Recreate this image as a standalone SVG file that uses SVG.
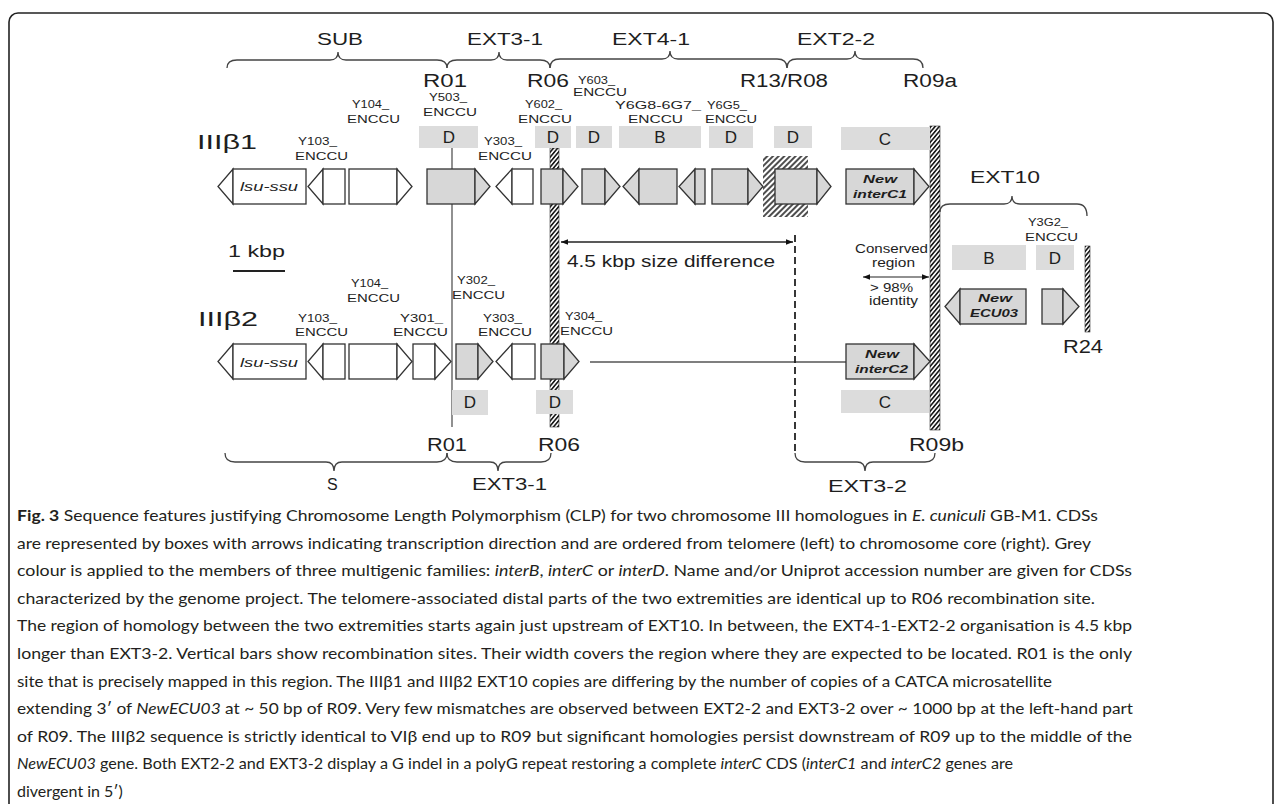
<svg xmlns="http://www.w3.org/2000/svg" width="1282" height="804" viewBox="0 0 1282 804">
<defs>
<style>
.gg{fill:#d7d7d7;stroke:#333;stroke-width:1.3}
.gw{fill:#fff;stroke:#333;stroke-width:1.3}
.fam{fill:#dcdcdc}
text{font-family:"Liberation Sans",Arial,sans-serif;fill:#1e1e1e}
.sm{font-size:11px}
.md{font-size:16px}
.lg{font-size:18px}
.let{font-size:17px;text-anchor:middle}
.gn{font-size:11px;font-weight:bold;font-style:italic}
.it{font-size:13px;font-style:italic}
.cap{font-family:Lato,"Open Sans",sans-serif;font-size:16px;fill:#231f20}
.br{fill:none;stroke:#444;stroke-width:1.3}
.ln{stroke:#555;stroke-width:1.3;fill:none}
.bar{fill:url(#rope);stroke:#333;stroke-width:0.6}
</style>
<pattern id="rope" width="3.2" height="3.2" patternUnits="userSpaceOnUse" patternTransform="rotate(40)">
<rect width="3.2" height="3.2" fill="#fff"/>
<line x1="0.8" y1="0" x2="0.8" y2="3.2" stroke="#1a1a1a" stroke-width="1.7"/>
</pattern>
<pattern id="sq" width="4" height="4" patternUnits="userSpaceOnUse" patternTransform="rotate(45)">
<rect width="4" height="4" fill="#fff"/>
<line x1="1" y1="0" x2="1" y2="4" stroke="#222" stroke-width="1.6"/>
</pattern>
<marker id="ah" viewBox="0 0 10 10" refX="10" refY="5" markerUnits="userSpaceOnUse" markerWidth="9" markerHeight="7" orient="auto-start-reverse">
<path d="M0,1 L10,5 L0,9 z" fill="#111"/>
</marker>
</defs>

<rect x="9" y="13" width="1264" height="810" rx="9" fill="#fff" stroke="#222" stroke-width="1.6"/>

<g id="sites">
<rect id="R06bar" class="bar" x="550" y="148" width="9" height="279"/>
<rect id="R09bar" class="bar" x="930" y="126" width="10" height="304"/>
<rect id="R24bar" class="bar" x="1085" y="246" width="5" height="86"/>
<rect id="R13sq" x="763" y="156" width="45" height="61" fill="url(#sq)"/>
</g>

<g id="connectors">
<line class="ln" x1="452" y1="148" x2="452" y2="427"/>
<line class="ln" x1="590" y1="362" x2="846" y2="362"/>
<line x1="561" y1="242" x2="793" y2="242" stroke="#222" stroke-width="1.3" marker-start="url(#ah)" marker-end="url(#ah)"/>
<line x1="795" y1="235" x2="795" y2="453" stroke="#222" stroke-width="1.8" stroke-dasharray="7 4"/>
<line x1="863" y1="277" x2="929" y2="277" stroke="#222" stroke-width="1.2" marker-start="url(#ah)" marker-end="url(#ah)"/>
<line x1="233" y1="271" x2="285" y2="271" stroke="#222" stroke-width="2.2"/>
<path class="br" d="M227 68 Q227 60 237 60 H330 Q338 60 338 52 Q338 60 346 60 H437 Q447 60 447 68"/>
<path class="br" d="M447 68 Q447 60 457 60 H491 Q499 60 499 52 Q499 60 507 60 H540 Q550 60 550 68"/>
<path class="br" d="M550 68 Q550 59 560 59 H662 Q670 59 670 51 Q670 59 678 59 H777 Q787 59 787 68"/>
<path class="br" d="M787 68 Q787 59 797 59 H847 Q855 59 855 51 Q855 59 863 59 H913 Q923 59 923 68"/>
<path class="br" d="M225 453 Q225 462 235 462 H326 Q334 462 334 471 Q334 462 342 462 H437 Q447 462 447 453"/>
<path class="br" d="M447 453 Q447 462 457 462 H490 Q498 462 498 471 Q498 462 506 462 H541 Q551 462 551 453"/>
<path class="br" d="M795 453 Q795 462 805 462 H857 Q865 462 865 471 Q865 462 873 462 H925 Q935 462 935 453"/>
<path class="br" d="M940 212 Q940 204 950 204 H1004 Q1012 204 1012 196 Q1012 204 1020 204 H1077 Q1087 204 1087 216"/>
</g>

<g id="families">
<g id="f1"><rect class="fam" x="419" y="126" width="59" height="22"/><text class="let" x="449" y="143">D</text></g>
<g id="f2"><rect class="fam" x="535" y="126" width="36" height="22"/><text class="let" x="553" y="143">D</text></g>
<g id="f3"><rect class="fam" x="576" y="126" width="36" height="22"/><text class="let" x="594" y="143">D</text></g>
<g id="f4"><rect class="fam" x="619" y="126" width="82" height="22"/><text class="let" x="660" y="143">B</text></g>
<g id="f5"><rect class="fam" x="709" y="126" width="44" height="22"/><text class="let" x="731" y="143">D</text></g>
<g id="f6"><rect class="fam" x="774" y="126" width="38" height="22"/><text class="let" x="793" y="143">D</text></g>
<g id="f7"><rect class="fam" x="841" y="127" width="89" height="23"/><text class="let" x="885" y="145">C</text></g>
<g id="f8"><rect class="fam" x="452" y="390" width="36" height="25"/><text class="let" x="470" y="408">D</text></g>
<g id="f9"><rect class="fam" x="536" y="390" width="37" height="24"/><text class="let" x="555" y="408">D</text></g>
<g id="f10"><rect class="fam" x="841" y="390" width="88" height="23"/><text class="let" x="885" y="408">C</text></g>
<g id="f11"><rect class="fam" x="952" y="245" width="74" height="25"/><text class="let" x="989" y="264">B</text></g>
<g id="f12"><rect class="fam" x="1036" y="245" width="38" height="25"/><text class="let" x="1055" y="264">D</text></g>
</g>

<g id="row1">
<g id="g1a"><polygon class="gw" points="233,169 233,204 218,186.5"/><rect class="gw" x="233" y="169" width="73" height="35"/><text class="it" x="240" y="191" textLength="58" lengthAdjust="spacingAndGlyphs">lsu-ssu</text></g>
<g id="g1b"><polygon class="gw" points="323,169 323,204 308,186.5"/><rect class="gw" x="323" y="169" width="22" height="35"/></g>
<g id="g1c"><rect class="gw" x="349" y="169" width="48" height="35"/><polygon class="gw" points="397,169 397,204 412,186.5"/></g>
<g id="g1d"><rect class="gg" x="427" y="169" width="48" height="35"/><polygon class="gg" points="475,169 475,204 490,186.5"/></g>
<g id="g1e"><polygon class="gw" points="512,169 512,204 496,186.5"/><rect class="gw" x="512" y="169" width="21" height="35"/></g>
<g id="g1f"><rect class="gg" x="541" y="169" width="22" height="35"/><polygon class="gg" points="563,169 563,204 578,186.5"/></g>
<g id="g1g"><rect class="gg" x="582" y="169" width="23" height="35"/><polygon class="gg" points="605,169 605,204 620,186.5"/></g>
<g id="g1h"><polygon class="gg" points="639,169 639,204 623,186.5"/><rect class="gg" x="639" y="169" width="38" height="35"/></g>
<g id="g1i"><polygon class="gg" points="695,169 695,204 679,186.5"/><rect class="gg" x="695" y="169" width="10" height="35"/></g>
<g id="g1j"><rect class="gg" x="712" y="169" width="36" height="35"/><polygon class="gg" points="748,169 748,204 763,186.5"/></g>
<g id="g1k"><rect class="gg" x="775" y="169" width="42" height="35"/><polygon class="gg" points="817,169 817,204 831,186.5"/></g>
<g id="g1l"><rect class="gg" x="846" y="169" width="68" height="35"/><polygon class="gg" points="914,169 914,204 929,186.5"/>
<text class="gn" x="863" y="183" textLength="34" lengthAdjust="spacingAndGlyphs">New</text>
<text class="gn" x="853" y="198" textLength="54" lengthAdjust="spacingAndGlyphs">interC1</text></g>
</g>

<g id="row2">
<g id="g2a"><polygon class="gw" points="233,344 233,379 218,361.5"/><rect class="gw" x="233" y="344" width="73" height="35"/><text class="it" x="240" y="367" textLength="58" lengthAdjust="spacingAndGlyphs">lsu-ssu</text></g>
<g id="g2b"><polygon class="gw" points="323,344 323,379 308,361.5"/><rect class="gw" x="323" y="344" width="22" height="35"/></g>
<g id="g2c"><rect class="gw" x="349" y="344" width="48" height="35"/><polygon class="gw" points="397,344 397,379 412,361.5"/></g>
<g id="g2d"><rect class="gw" x="413" y="344" width="22" height="35"/><polygon class="gw" points="435,344 435,379 451,361.5"/></g>
<g id="g2e"><rect class="gg" x="456" y="344" width="22" height="35"/><polygon class="gg" points="478,344 478,379 493,361.5"/></g>
<g id="g2f"><polygon class="gw" points="512,344 512,379 496,361.5"/><rect class="gw" x="512" y="344" width="23" height="35"/></g>
<g id="g2g"><rect class="gg" x="541" y="344" width="23" height="35"/><polygon class="gg" points="564,344 564,379 579,361.5"/></g>
<g id="g2h"><rect class="gg" x="846" y="344" width="68" height="35"/><polygon class="gg" points="914,344 914,379 930,361.5"/>
<text class="gn" x="865" y="358" textLength="34" lengthAdjust="spacingAndGlyphs">New</text>
<text class="gn" x="855" y="373" textLength="53" lengthAdjust="spacingAndGlyphs">interC2</text></g>
</g>

<g id="ext10">
<g id="g3a"><polygon class="gg" points="960,289 960,324 945,306.5"/><rect class="gg" x="960" y="289" width="66" height="35"/>
<text class="gn" x="978" y="302" textLength="34" lengthAdjust="spacingAndGlyphs">New</text>
<text class="gn" x="970" y="317" textLength="48" lengthAdjust="spacingAndGlyphs">ECU03</text></g>
<g id="g3b"><rect class="gg" x="1042" y="289" width="21" height="35"/><polygon class="gg" points="1063,289 1063,324 1079,306.5"/></g>
</g>

<g id="glabels" class="sm">
<text x="298" y="145" textLength="39" lengthAdjust="spacingAndGlyphs">Y103_</text><text x="295" y="160" textLength="53" lengthAdjust="spacingAndGlyphs">ENCCU</text>
<text x="352" y="108" textLength="37" lengthAdjust="spacingAndGlyphs">Y104_</text><text x="347" y="123" textLength="53" lengthAdjust="spacingAndGlyphs">ENCCU</text>
<text x="429" y="101" textLength="38" lengthAdjust="spacingAndGlyphs">Y503_</text><text x="423" y="116" textLength="54" lengthAdjust="spacingAndGlyphs">ENCCU</text>
<text x="484" y="145" textLength="38" lengthAdjust="spacingAndGlyphs">Y303_</text><text x="478" y="160" textLength="54" lengthAdjust="spacingAndGlyphs">ENCCU</text>
<text x="525" y="108" textLength="37" lengthAdjust="spacingAndGlyphs">Y602_</text><text x="518" y="123" textLength="54" lengthAdjust="spacingAndGlyphs">ENCCU</text>
<text x="578" y="84" textLength="37" lengthAdjust="spacingAndGlyphs">Y603_</text><text x="573" y="96" textLength="54" lengthAdjust="spacingAndGlyphs">ENCCU</text>
<text x="615" y="109" textLength="86" lengthAdjust="spacingAndGlyphs">Y6G8-6G7_</text><text x="628" y="123" textLength="55" lengthAdjust="spacingAndGlyphs">ENCCU</text>
<text x="707" y="109" textLength="40" lengthAdjust="spacingAndGlyphs">Y6G5_</text><text x="705" y="123" textLength="52" lengthAdjust="spacingAndGlyphs">ENCCU</text>
<text x="351" y="287" textLength="37" lengthAdjust="spacingAndGlyphs">Y104_</text><text x="347" y="302" textLength="53" lengthAdjust="spacingAndGlyphs">ENCCU</text>
<text x="457" y="284" textLength="38" lengthAdjust="spacingAndGlyphs">Y302_</text><text x="452" y="299" textLength="53" lengthAdjust="spacingAndGlyphs">ENCCU</text>
<text x="298" y="322" textLength="39" lengthAdjust="spacingAndGlyphs">Y103_</text><text x="295" y="336" textLength="53" lengthAdjust="spacingAndGlyphs">ENCCU</text>
<text x="400" y="322" textLength="43" lengthAdjust="spacingAndGlyphs">Y301_</text><text x="393" y="336" textLength="55" lengthAdjust="spacingAndGlyphs">ENCCU</text>
<text x="483" y="322" textLength="39" lengthAdjust="spacingAndGlyphs">Y303_</text><text x="478" y="336" textLength="54" lengthAdjust="spacingAndGlyphs">ENCCU</text>
<text x="565" y="320" textLength="37" lengthAdjust="spacingAndGlyphs">Y304_</text><text x="560" y="335" textLength="53" lengthAdjust="spacingAndGlyphs">ENCCU</text>
<text x="1028" y="226" textLength="40" lengthAdjust="spacingAndGlyphs">Y3G2_</text><text x="1025" y="241" textLength="53" lengthAdjust="spacingAndGlyphs">ENCCU</text>
</g>

<g id="rlabels">
<text class="md" x="317" y="45" textLength="46" lengthAdjust="spacingAndGlyphs">SUB</text>
<text class="md" x="467" y="45" textLength="76" lengthAdjust="spacingAndGlyphs">EXT3-1</text>
<text class="md" x="612" y="45" textLength="78" lengthAdjust="spacingAndGlyphs">EXT4-1</text>
<text class="md" x="797" y="45" textLength="78" lengthAdjust="spacingAndGlyphs">EXT2-2</text>
<text class="lg" x="423" y="87" textLength="44" lengthAdjust="spacingAndGlyphs">R01</text>
<text class="lg" x="527" y="87" textLength="42" lengthAdjust="spacingAndGlyphs">R06</text>
<text class="lg" x="740" y="87" textLength="88" lengthAdjust="spacingAndGlyphs">R13/R08</text>
<text class="lg" x="903" y="87" textLength="54" lengthAdjust="spacingAndGlyphs">R09a</text>
<text x="197" y="149" font-size="20" textLength="60" lengthAdjust="spacingAndGlyphs">IIIβ1</text>
<text x="198" y="326" font-size="20" textLength="60" lengthAdjust="spacingAndGlyphs">IIIβ2</text>
<text class="md" x="228" y="257" textLength="57" lengthAdjust="spacingAndGlyphs">1 kbp</text>
<text x="567" y="267" font-size="17" textLength="208" lengthAdjust="spacingAndGlyphs">4.5 kbp size difference</text>
<text x="855" y="253" font-size="13" textLength="73" lengthAdjust="spacingAndGlyphs">Conserved</text>
<text x="872" y="267" font-size="13" textLength="43" lengthAdjust="spacingAndGlyphs">region</text>
<text x="870" y="292" font-size="13" textLength="43" lengthAdjust="spacingAndGlyphs">&gt; 98%</text>
<text x="869" y="305" font-size="13" textLength="49" lengthAdjust="spacingAndGlyphs">identity</text>
<text class="md" x="970" y="183" textLength="70" lengthAdjust="spacingAndGlyphs">EXT10</text>
<text class="lg" x="1063" y="353" textLength="40" lengthAdjust="spacingAndGlyphs">R24</text>
<text class="lg" x="427" y="451" textLength="40" lengthAdjust="spacingAndGlyphs">R01</text>
<text class="lg" x="538" y="451" textLength="42" lengthAdjust="spacingAndGlyphs">R06</text>
<text class="lg" x="909" y="451" textLength="55" lengthAdjust="spacingAndGlyphs">R09b</text>
<text class="md" x="327" y="490">S</text>
<text class="md" x="472" y="490" textLength="75" lengthAdjust="spacingAndGlyphs">EXT3-1</text>
<text class="md" x="828" y="492" textLength="79" lengthAdjust="spacingAndGlyphs">EXT3-2</text>
</g>

<g id="caption" class="cap">
<text class="cap" x="17" y="521" textLength="1081" lengthAdjust="spacingAndGlyphs"><tspan font-weight="bold">Fig. 3</tspan> Sequence features justifying Chromosome Length Polymorphism (CLP) for two chromosome III homologues in <tspan font-style="italic">E. cuniculi</tspan> GB-M1. CDSs</text>
<text class="cap" x="17" y="548.6" textLength="1074" lengthAdjust="spacingAndGlyphs">are represented by boxes with arrows indicating transcription direction and are ordered from telomere (left) to chromosome core (right). Grey</text>
<text class="cap" x="17" y="576.2" textLength="1115" lengthAdjust="spacingAndGlyphs">colour is applied to the members of three multigenic families: <tspan font-style="italic">interB</tspan>, <tspan font-style="italic">interC</tspan> or <tspan font-style="italic">interD</tspan>. Name and/or Uniprot accession number are given for CDSs</text>
<text class="cap" x="17" y="603.8" textLength="1078" lengthAdjust="spacingAndGlyphs">characterized by the genome project. The telomere-associated distal parts of the two extremities are identical up to R06 recombination site.</text>
<text class="cap" x="17" y="631.4" textLength="1115" lengthAdjust="spacingAndGlyphs">The region of homology between the two extremities starts again just upstream of EXT10. In between, the EXT4-1-EXT2-2 organisation is 4.5 kbp</text>
<text class="cap" x="17" y="659" textLength="1115" lengthAdjust="spacingAndGlyphs">longer than EXT3-2. Vertical bars show recombination sites. Their width covers the region where they are expected to be located. R01 is the only</text>
<text class="cap" x="17" y="686.6" textLength="1035" lengthAdjust="spacingAndGlyphs">site that is precisely mapped in this region. The IIIβ1 and IIIβ2 EXT10 copies are differing by the number of copies of a CATCA microsatellite</text>
<text class="cap" x="17" y="714.2" textLength="1116" lengthAdjust="spacingAndGlyphs">extending 3′ of <tspan font-style="italic">NewECU03</tspan> at ~ 50 bp of R09. Very few mismatches are observed between EXT2-2 and EXT3-2 over ~ 1000 bp at the left-hand part</text>
<text class="cap" x="17" y="741.8" textLength="1115" lengthAdjust="spacingAndGlyphs">of R09. The IIIβ2 sequence is strictly identical to VIβ end up to R09 but significant homologies persist downstream of R09 up to the middle of the</text>
<text class="cap" x="17" y="769.4" textLength="996" lengthAdjust="spacingAndGlyphs"><tspan font-style="italic">NewECU03</tspan> gene. Both EXT2-2 and EXT3-2 display a G indel in a polyG repeat restoring a complete <tspan font-style="italic">interC</tspan> CDS (<tspan font-style="italic">interC1</tspan> and <tspan font-style="italic">interC2</tspan> genes are</text>
<text class="cap" x="17" y="797">divergent in 5′)</text>
</g>
</svg>
